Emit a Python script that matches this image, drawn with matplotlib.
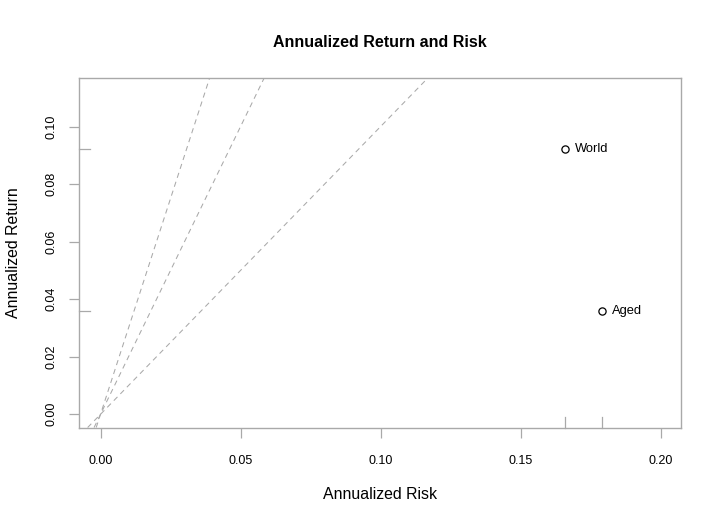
import numpy as np
import matplotlib
matplotlib.use("Agg")
import matplotlib.pyplot as plt
import matplotlib.transforms as mtransforms

plt.rcParams['font.family'] = ['Liberation Sans', 'DejaVu Sans']

# values
names = ["World", "Aged"]
risk = [0.1659, 0.1792]
ret = [0.0921, 0.0360]
sharpe_slopes = [1, 2, 3]
x_ticks = [0.00, 0.05, 0.10, 0.15, 0.20]
y_ticks = [0.00, 0.02, 0.04, 0.06, 0.08, 0.10]

el_color = "#A9A9A9"

fig = plt.figure(figsize=(7.21, 5.26), dpi=100)
ax = fig.add_axes([0.10957, 0.18726, 0.8346, 0.6645])

# sharpe ratio lines through origin
for s in sharpe_slopes:
    ax.axline((0, 0), slope=s, color=el_color, lw=0.75, dashes=(5, 4))

ax.plot(risk, ret, linestyle="none", marker="o", markersize=5.2,
        markerfacecolor="white", markeredgecolor="black", markeredgewidth=0.9)
for n, x, y in zip(names, risk, ret):
    ax.annotate(n, (x, y), xytext=(6.8, 0), textcoords="offset points",
                va="center", ha="left", fontsize=9.3)

# rug marks on left and bottom
bx = mtransforms.blended_transform_factory(ax.transData, ax.transAxes)
by = mtransforms.blended_transform_factory(ax.transAxes, ax.transData)
rug_x = 11 / (0.8346 * 721)
rug_y = 11 / (0.6645 * 526)
for x in risk:
    ax.plot([x, x], [0, rug_y], transform=bx, color=el_color, lw=0.9, clip_on=False)
for y in ret:
    ax.plot([0, rug_x], [y, y], transform=by, color=el_color, lw=0.9, clip_on=False)

ax.set_xlim(-0.00768, 0.2072)
ax.set_ylim(-0.00459, 0.1169)
ax.set_xticks(x_ticks)
ax.set_yticks(y_ticks)
ax.set_xticklabels([f"{v:.2f}" for v in x_ticks])
ax.set_yticklabels([f"{v:.2f}" for v in y_ticks], rotation=90, va="center")
ax.tick_params(axis="both", length=7.5, width=0.9, color=el_color, labelsize=9)
ax.tick_params(axis="x", pad=12.5)
ax.tick_params(axis="y", pad=8)
for sp in ax.spines.values():
    sp.set_color(el_color)
    sp.set_linewidth(1.0)

fig.text(0.5 * (79 + 680.7) / 721, 1 - 42.5 / 526, "Annualized Return and Risk",
         ha="center", va="center", fontsize=11.5, fontweight="bold")
ax.set_xlabel("Annualized Risk", fontsize=11.4)
ax.xaxis.label.set_va("center")
ax.xaxis.set_label_coords(0.5, (427.5 - 494) / 349.5)
ax.set_ylabel("Annualized Return", fontsize=11.4)
ax.yaxis.label.set_va("center")
ax.yaxis.set_label_coords((14 - 79) / 601.7, 0.5)

fig.savefig("out.png", dpi=100)
